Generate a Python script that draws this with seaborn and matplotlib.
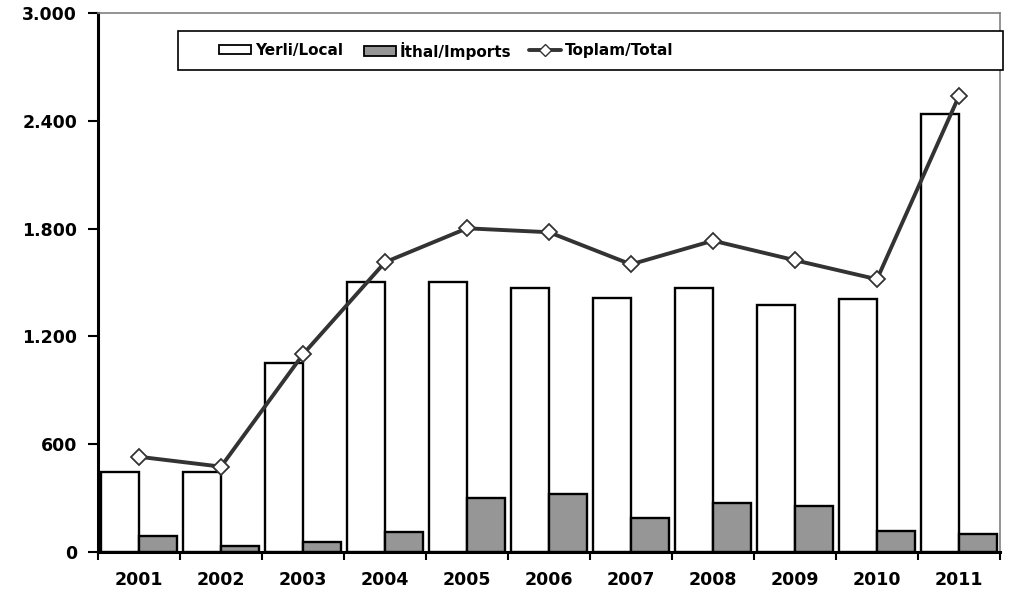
import pandas as pd
import numpy as np
import matplotlib
matplotlib.use('Agg')
import matplotlib.pyplot as plt
import seaborn as sns
from matplotlib.patches import Patch, Rectangle
from matplotlib.lines import Line2D
from matplotlib.ticker import FuncFormatter, FixedLocator

# Data
years = ['2001', '2002', '2003', '2004', '2005', '2006', '2007', '2008', '2009', '2010', '2011']
local = [442, 442, 1052, 1502, 1501, 1468, 1412, 1468, 1376, 1410, 2437]
imports = [87, 30, 52, 108, 297, 321, 186, 273, 253, 117, 97]
total = [529, 474, 1100, 1613, 1802, 1780, 1601, 1733, 1624, 1518, 2539]
series_names = ['Yerli/Local', 'İthal/Imports', 'Toplam/Total']

sns.set_style('white')
plt.rcParams['font.family'] = ['DejaVu Sans']
plt.rcParams['text.color'] = 'black'
plt.rcParams['xtick.color'] = 'black'
plt.rcParams['ytick.color'] = 'black'

df = pd.DataFrame({
    'year': years * 2,
    'value': local + imports,
    'series': [series_names[0]] * len(years) + [series_names[1]] * len(years),
})

fig = plt.figure(figsize=(10.15, 5.96), dpi=100)
ax = fig.add_axes([0.0966, 0.0743, 0.9852 - 0.0966, 0.9777 - 0.0743])

sns.barplot(data=df, x='year', y='value', hue='series', order=years,
            palette=['white', '#969696'], edgecolor='black', linewidth=1.7,
            width=0.93, ax=ax, legend=False, errorbar=None)

sns.lineplot(x=np.arange(len(years)), y=total, ax=ax, color='#333333',
             linewidth=2.8, marker='D', markersize=8.5,
             markerfacecolor='white', markeredgecolor='#333333',
             markeredgewidth=1.3, zorder=5)

ax.set_xlim(-0.5, len(years) - 0.5)
ax.set_ylim(0, 3000)
ax.set_yticks([0, 600, 1200, 1800, 2400, 3000])
ax.yaxis.set_major_formatter(FuncFormatter(lambda v, p: f"{int(v):,}".replace(',', '.')))
ax.set_xlabel('')
ax.set_ylabel('')

# ticks: labels centred, tick marks between categories
ax.xaxis.set_minor_locator(FixedLocator(np.arange(-0.5, len(years), 1.0)))
ax.tick_params(axis='x', which='major', bottom=True, length=0, pad=14, labelsize=12.5,
               labelcolor='black')
ax.tick_params(axis='x', which='minor', bottom=True, length=6, width=1.5, direction='out',
               color='black')
ax.tick_params(axis='y', which='major', left=True, length=7, width=1.5, direction='out',
               color='black', labelsize=12.5, pad=8, labelcolor='black')
for lab in ax.get_xticklabels() + ax.get_yticklabels():
    lab.set_fontweight('bold')

for side in ['left', 'bottom']:
    ax.spines[side].set_color('black')
    ax.spines[side].set_linewidth(2.2)
for side in ['top', 'right']:
    ax.spines[side].set_color('#808080')
    ax.spines[side].set_linewidth(1.2)

# legend box
fig.patches.append(Rectangle((178 / 1015, 1 - 70 / 596), (1003 - 178) / 1015, 39 / 596,
                             transform=fig.transFigure, facecolor='white',
                             edgecolor='black', linewidth=1.2, zorder=10))
handles = [
    Patch(facecolor='white', edgecolor='black', linewidth=1.3),
    Patch(facecolor='#969696', edgecolor='black', linewidth=1.3),
    Line2D([0], [0], color='#333333', linewidth=2.8, marker='D', markersize=6,
           markerfacecolor='white', markeredgecolor='#333333'),
]
# one entry per legend so each sits where it does in the reference
handle_x = [219, 364, 529]
for h, name, hx in zip(handles, series_names, handle_x):
    leg = fig.legend([h], [name], loc='center left',
                     bbox_to_anchor=(hx / 1015, 1 - 50.5 / 596), frameon=False,
                     prop={'weight': 'bold', 'size': 11},
                     handlelength=2.1, handleheight=0.55, handletextpad=0.25,
                     borderpad=0, borderaxespad=0)
    leg.set_zorder(11)

fig.savefig('out.png', dpi=100)
